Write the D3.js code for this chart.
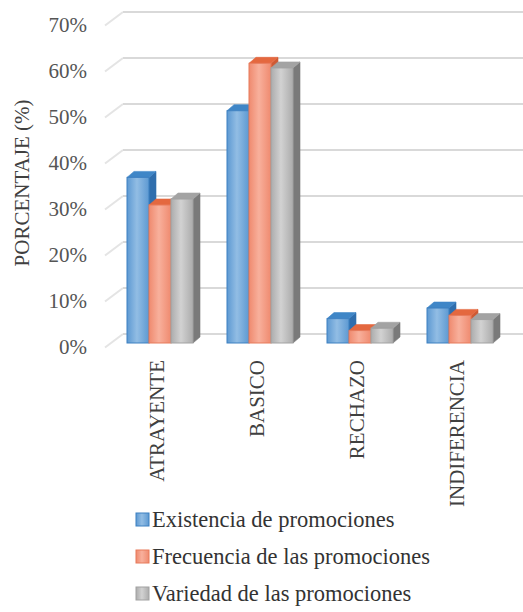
<!DOCTYPE html>
<html>
<head>
<meta charset="utf-8">
<script src="https://cdn.jsdelivr.net/npm/d3@7"></script>
<style>
  html, body { margin: 0; padding: 0; background: #ffffff; }
  svg { display: block; }
</style>
</head>
<body>
<svg id="chart" width="523" height="612"></svg>
<script>
// Categories, series and values (percent)
const categories = ["ATRAYENTE", "BASICO", "RECHAZO", "INDIFERENCIA"];
const seriesNames = ["Existencia de promociones", "Frecuencia de las promociones", "Variedad de las promociones"];
const existencia = [36, 50.5, 5.3, 7.6];
const frecuencia = [30, 60.8, 2.7, 6.0];
const variedad = [31.3, 59.8, 3.2, 5.1];
const yTicks = [0, 10, 20, 30, 40, 50, 60, 70];
const yTickLabels = ["0%", "10%", "20%", "30%", "40%", "50%", "60%", "70%"];

const seriesValues = [existencia, frecuencia, variedad];
const FONT = "'Liberation Serif', 'Times New Roman', serif";

// Face colours for each series: front gradient (edge/mid), top, side, outline
const palette = [
  { edge: "#5d99d2", mid: "#92bde4", top: "#3f86c7", side: "#2f6ead", stroke: "#3d80c1" },
  { edge: "#ef8a6f", mid: "#f8b09c", top: "#e4683f", side: "#cf5a34", stroke: "#e77a5b" },
  { edge: "#acacac", mid: "#d2d2d2", top: "#a3a3a3", side: "#7a7a7a", stroke: "#a2a2a2" }
];

const svg = d3.select("#chart");
const defs = svg.append("defs");
palette.forEach((p, i) => {
  const g = defs.append("linearGradient").attr("id", "front" + i)
    .attr("x1", "0").attr("x2", "1").attr("y1", "0").attr("y2", "0");
  g.append("stop").attr("offset", "0%").attr("stop-color", p.edge);
  g.append("stop").attr("offset", "45%").attr("stop-color", p.mid);
  g.append("stop").attr("offset", "100%").attr("stop-color", p.edge);
});

// Oblique projection: wall depth and bar depth
const wallDX = 18, wallDY = -13;
const barDX = 7, barDY = -6;

// Value scale in the plane of the bars
const y = d3.scaleLinear().domain([0, 70]).range([343, 21]);
const yBack = v => y(v) - 9;     // back wall
const yFront = v => y(v) + 4;    // front edge of floor / side wall

// Category bands in the plane of the bars
const x = d3.scaleBand().domain(categories).range([110, 510])
  .paddingInner(0.34).paddingOuter(0.17);
const xs = d3.scaleBand().domain(d3.range(seriesNames.length)).range([0, x.bandwidth()]).padding(0);

const frontLeft = 105;
const backLeft = frontLeft + wallDX;

// Gridlines: diagonal on the side wall plus horizontal on the back wall
const grid = svg.append("g");
yTicks.forEach(t => {
  grid.append("line")
    .attr("x1", frontLeft).attr("y1", yFront(t) + 0.5)
    .attr("x2", backLeft).attr("y2", yBack(t))
    .attr("stroke", "#e4e4e4").attr("stroke-width", 2);
  grid.append("line")
    .attr("x1", backLeft).attr("y1", yBack(t))
    .attr("x2", 523).attr("y2", yBack(t))
    .attr("stroke", "#d9d9d9").attr("stroke-width", 2);
});

// Tick labels
svg.append("g").selectAll("text").data(yTicks).join("text")
  .attr("x", 87).attr("y", t => yFront(t))
  .attr("dy", "0.35em")
  .attr("text-anchor", "end")
  .attr("font-family", FONT)
  .attr("font-size", 21)
  .attr("fill", "#555555")
  .text((t, i) => yTickLabels[i]);

// Axis title
svg.append("text")
  .attr("transform", "translate(29,183) rotate(-90)")
  .attr("text-anchor", "middle")
  .attr("font-family", FONT)
  .attr("font-size", 21)
  .attr("fill", "#404040")
  .text("PORCENTAJE (%)");

// 3D bars
const bars = svg.append("g");
categories.forEach((c, ci) => {
  seriesValues.forEach((vals, si) => {
    const v = vals[ci];
    const p = palette[si];
    const x0 = x(c) + xs(si);
    const w = xs.bandwidth();
    const yt = y(v), yb = y(0);
    const g = bars.append("g");
    // side face
    g.append("path")
      .attr("d", `M${x0 + w},${yt} L${x0 + w + barDX},${yt + barDY} L${x0 + w + barDX},${yb + barDY} L${x0 + w},${yb} Z`)
      .attr("fill", p.side).attr("stroke", p.side).attr("stroke-width", 0.6);
    // top face
    g.append("path")
      .attr("d", `M${x0},${yt} L${x0 + barDX},${yt + barDY} L${x0 + w + barDX},${yt + barDY} L${x0 + w},${yt} Z`)
      .attr("fill", p.top).attr("stroke", p.top).attr("stroke-width", 0.6);
    // front face
    g.append("rect")
      .attr("x", x0).attr("y", yt)
      .attr("width", w).attr("height", yb - yt)
      .attr("fill", `url(#front${si})`)
      .attr("stroke", p.stroke).attr("stroke-width", 1);
  });
});

// Category labels, rotated
svg.append("g").selectAll("text").data(categories).join("text")
  .attr("transform", d => `translate(${x(d) + x.bandwidth() / 2 + 4},360) rotate(-90)`)
  .attr("text-anchor", "end")
  .attr("font-family", FONT)
  .attr("font-size", 21)
  .attr("fill", "#404040")
  .text(d => d);

// Legend
const legend = svg.append("g");
seriesNames.forEach((name, i) => {
  const ly = 519 + i * 37;
  legend.append("rect")
    .attr("x", 136).attr("y", ly - 6)
    .attr("width", 13).attr("height", 13)
    .attr("fill", `url(#front${i})`)
    .attr("stroke", palette[i].stroke).attr("stroke-width", 1);
  legend.append("text")
    .attr("x", 152).attr("y", ly)
    .attr("dy", "0.35em")
    .attr("font-family", FONT)
    .attr("font-size", 22.5)
    .attr("fill", "#333333")
    .text(name);
});
</script>
</body>
</html>
